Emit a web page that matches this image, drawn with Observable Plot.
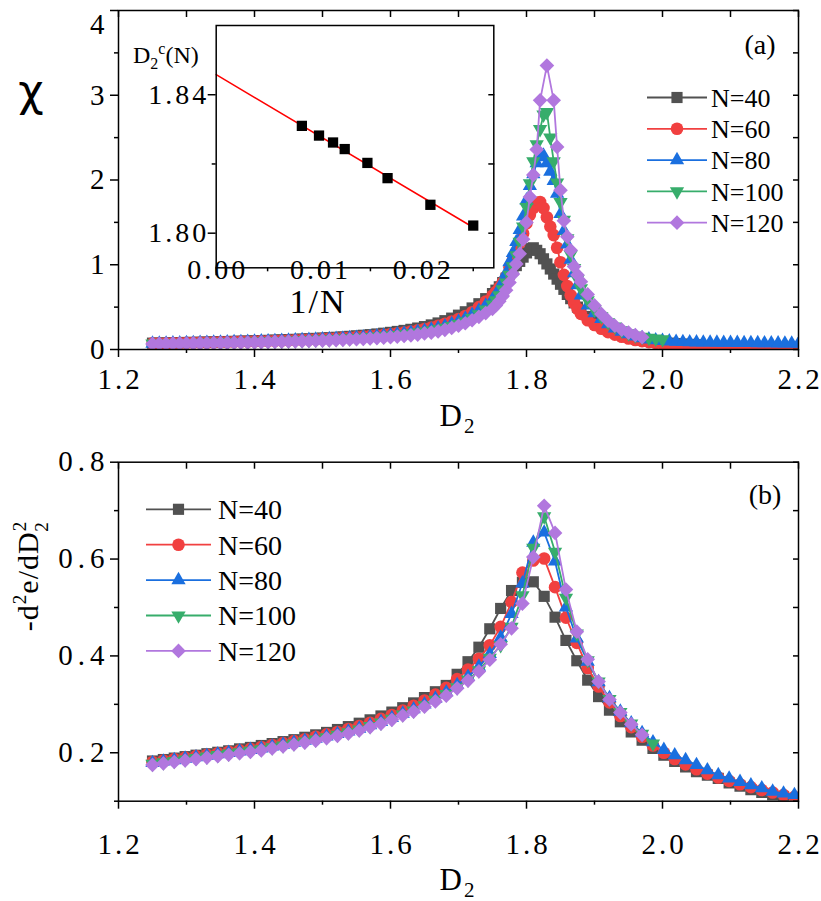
<!DOCTYPE html>
<html><head><meta charset="utf-8">
<script src="https://cdn.jsdelivr.net/npm/d3@7"></script>
<script src="https://cdn.jsdelivr.net/npm/@observablehq/plot@0.6"></script>
<style>
body{margin:0;background:#fff;}
#wrap{position:relative;width:821px;height:901px;background:#fff;}
#wrap svg{position:absolute;overflow:visible;}
#wrap svg text{font-family:"Liberation Serif","Times New Roman",serif;}
</style></head><body><div id="wrap"></div>
<script>
// ---------- data ----------
const seriesNames = ["N=40","N=60","N=80","N=100","N=120"];
const colors = ["#515151","#F14040","#1A6FDF","#37AD6B","#B177DE"];

// panel (a): chi vs D2
const topD = [1.25,1.26,1.27,1.28,1.29,1.3,1.31,1.32,1.33,1.34,1.35,1.36,1.37,1.38,1.39,1.4,1.41,1.42,1.43,1.44,1.45,1.46,1.47,1.48,1.49,1.5,1.51,1.52,1.53,1.54,1.55,1.56,1.57,1.58,1.59,1.6,1.61,1.62,1.63,1.64,1.65,1.66,1.67,1.68,1.69,1.7,1.71,1.72,1.73,1.74,1.75,
1.755,1.76,1.765,1.77,1.775,1.78,1.785,1.79,1.795,1.8,1.805,1.81,1.815,1.82,1.825,1.83,1.835,1.84,1.845,1.85,1.855,1.86,1.865,1.87,1.875,1.88,
1.89,1.9,1.91,1.92,1.93,1.94,1.95,1.96,1.97,1.98,1.99,2,2.01,2.02,2.03,2.04,2.05,2.06,2.07,2.08,2.09,2.1,2.11,2.12,2.13,2.14,2.15,2.16,2.17,2.18,2.19,2.2];
const chiN40 = [.075,.076,.078,.079,.081,.083,.084,.086,.088,.09,.092,.094,.096,.098,.1,.103,.105,.108,.111,.114,.117,.12,.123,.127,.131,.135,.139,.144,.149,.155,.161,.168,.175,.183,.192,.202,.213,.225,.238,.253,.27,.29,.313,.34,.37,.405,.445,.49,.54,.6,.66,
.7,.74,.79,.84,.89,.94,.99,1.04,1.09,1.14,1.19,1.2,1.17,1.13,1.07,1.01,.95,.89,.83,.77,.71,.65,.6,.55,.5,.46,
.39,.33,.28,.24,.205,.175,.15,.13,.115,.1,.09,.082,.075,.069,.064,.06,.056];
const chiN60 = [.072,.073,.074,.076,.077,.079,.08,.082,.083,.085,.087,.089,.091,.093,.095,.097,.099,.101,.104,.106,.109,.112,.115,.118,.121,.125,.129,.133,.137,.142,.147,.153,.159,.166,.173,.181,.19,.2,.212,.226,.242,.26,.28,.303,.33,.36,.395,.44,.5,.565,.635,
.68,.73,.79,.86,.97,1.06,1.15,1.26,1.37,1.49,1.59,1.67,1.73,1.74,1.67,1.56,1.45,1.35,1.2,1.03,.88,.75,.64,.55,.48,.42,
.345,.29,.245,.205,.175,.15,.13,.113,.099,.087,.077,.068,.061,.055,.05,.046,.042,.039,.036,.034,.032,.03,.028,.027,.026,.025,.024,.023,.022,.021,.021,.02];
const chiN80 = [.07,.071,.072,.074,.075,.076,.078,.079,.081,.082,.084,.086,.088,.09,.092,.094,.096,.098,.1,.103,.105,.108,.111,.114,.117,.12,.124,.127,.131,.136,.14,.145,.151,.157,.164,.171,.179,.188,.198,.209,.222,.236,.252,.275,.3,.33,.365,.41,.46,.52,.59,
.65,.71,.8,.9,1.03,1.14,1.27,1.41,1.57,1.76,1.93,2.07,2.2,2.27,2.29,2.2,2.1,1.99,1.84,1.6,1.4,1.24,1.06,.9,.76,.64,
.52,.43,.36,.3,.25,.21,.18,.155,.135,.12,.11,.102,.096,.092,.089,.087,.085,.084,.083,.082,.081,.08,.079,.078,.077,.076,.075,.074,.073,.072,.071,.07];
const chiN100 = [.068,.069,.07,.071,.073,.074,.075,.077,.078,.08,.081,.083,.085,.087,.089,.091,.093,.095,.097,.099,.102,.104,.107,.11,.113,.116,.119,.123,.127,.131,.135,.14,.145,.151,.157,.164,.171,.179,.188,.198,.21,.223,.238,.255,.275,.3,.33,.37,.415,.47,.53,
.58,.64,.71,.79,.88,.98,1.11,1.27,1.45,1.68,1.96,2.22,2.42,2.6,2.77,2.8,2.5,2.22,1.97,1.74,1.53,1.31,1.12,.96,.83,.72,
.58,.47,.39,.32,.27,.225,.19,.165,.148,.136,.127,.12];
const chiN120 = [.066,.067,.068,.069,.07,.071,.072,.073,.074,.076,.077,.078,.08,.081,.083,.084,.086,.088,.09,.092,.094,.096,.098,.1,.103,.105,.108,.111,.114,.118,.121,.125,.13,.135,.14,.146,.152,.159,.167,.176,.19,.2,.213,.232,.255,.28,.31,.345,.385,.43,.48,
.52,.57,.63,.7,.79,.89,1.01,1.13,1.3,1.5,1.8,2.06,2.36,2.94,null,3.35,null,2.94,2.39,1.88,1.52,1.33,1.17,.98,.88,.8,
.65,.52,.42,.34,.28,.235,.2,.17,.145];

// panel (b): -d2e/dD2^2 vs D2
const botD = [1.25,1.266,1.282,1.298,1.314,1.33,1.346,1.362,1.378,1.394,1.41,1.426,1.442,1.458,1.474,1.49,1.506,1.522,1.538,1.554,1.57,1.586,1.602,1.618,1.634,1.65,1.666,1.682,1.698,1.714,1.73,1.746,1.762,1.778,1.794,1.81,1.826,1.842,1.858,1.874,1.89,1.906,1.922,1.938,1.954,1.97,1.986,2.002,2.018,2.034,2.05,2.066,2.082,2.098,2.114,2.13,2.146,2.162,2.178,2.194];
const d2eN40 = [.183,.186,.189,.192,.195,.198,.201,.204,.208,.211,.215,.219,.223,.227,.232,.237,.242,.248,.254,.261,.268,.276,.284,.293,.303,.314,.326,.339,.362,.388,.418,.456,.498,.535,.552,.553,.523,.48,.432,.39,.35,.316,.288,.264,.243,.226,.209,.195,.182,.171,.161,.154,.147,.138,.131,.124,.118,.113,.109];
const d2eN60 = [.181,.184,.187,.19,.193,.196,.199,.202,.205,.208,.212,.216,.22,.224,.228,.233,.238,.243,.249,.255,.262,.27,.278,.287,.297,.308,.32,.334,.352,.372,.394,.422,.46,.511,.572,.597,.601,.542,.479,.427,.375,.337,.304,.276,.253,.233,.215,.2,.187,.176,.166,.157,.149,.142,.135,.129,.123,.118,.113,.109];
const d2eN80 = [.179,.182,.185,.188,.191,.194,.197,.2,.203,.206,.209,.213,.217,.221,.225,.229,.234,.239,.244,.25,.257,.264,.272,.281,.29,.3,.312,.325,.34,.357,.378,.404,.438,.487,.55,.634,.655,.595,.5,.436,.388,.346,.313,.285,.261,.241,.222,.206,.195,.185,.175,.164,.154,.147,.14,.133,.127,.12,.116,.113];
const d2eN100 = [.177,.18,.183,.186,.189,.192,.195,.198,.201,.204,.207,.211,.215,.219,.223,.227,.232,.237,.242,.248,.255,.262,.27,.279,.287,.298,.309,.321,.335,.351,.37,.396,.422,.46,.525,.623,.688,.615,.52,.446,.391,.347,.311,.284,.26,.239,.219];
const d2eN120 = [.175,.178,.181,.184,.187,.19,.193,.196,.199,.202,.205,.209,.213,.217,.221,.225,.23,.235,.24,.246,.253,.26,.268,.277,.285,.295,.306,.318,.333,.349,.368,.392,.424,.457,.508,.604,.71,.654,.537,.45,.393,.347,.31,.283,.259,.237];

// inset: D2c(N) vs 1/N
const insetN = [120,100,88,80,68,60,48,40];
const insetD2c = [1.831,1.8282,1.8262,1.8243,1.8203,1.8159,1.8082,1.8022];
const fitInvN = [0,0.0251];
const fitD2c = [1.8458,1.8015];

// ticks
const xMajor = [1.2,1.4,1.6,1.8,2.0,2.2];
const xMinor = [1.3,1.5,1.7,1.9,2.1];
const chiMajor = [0,1,2,3,4];
const chiMinor = [0.5,1.5,2.5,3.5];
const d2eMajor = [0.2,0.4,0.6,0.8];
const d2eMinor = [0.1,0.3,0.5,0.7];
const insXMajor = [0,0.01,0.02];
const insXMinor = [0.005,0.015,0.025];
const insYMajor = [1.80,1.84];
const insYMinor = [1.82];

// ---------- build ----------
const styleOf = [
  {symbol:"square", r:6.3, rotate:0, d3s:d3.symbolSquare},
  {symbol:"circle", r:6.3, rotate:0, d3s:d3.symbolCircle},
  {symbol:"triangle", r:5.3, rotate:0, d3s:d3.symbolTriangle},
  {symbol:"triangle", r:5.3, rotate:180, d3s:d3.symbolTriangle},
  {symbol:"diamond2", r:6.6, rotate:0, d3s:d3.symbolDiamond2}
];
const rows = (D, vals) => vals.map((v,i)=>({D:D[i], v})).filter(d=>d.v!=null);

function seriesMarks(D, list){
  const m = [];
  list.forEach((vals,i)=>{
    const data = rows(D, vals), s = styleOf[i];
    m.push(Plot.line(data,{x:"D",y:"v",stroke:colors[i],strokeWidth:1.8,clip:true}));
    m.push(Plot.dot(data,{x:"D",y:"v",symbol:s.symbol,r:s.r,rotate:s.rotate,fill:colors[i],stroke:"none",clip:true}));
  });
  return m;
}
function axes(xMa, xMi, yMa, yMi, xFmt, yFmt, o){
  const none = ()=>"";
  const sw = 1.5;
  const marks = [
    Plot.axisX(xMa,{anchor:"bottom",tickSize:8,tickPadding:o.xPad,tickFormat:xFmt,label:null,fontSize:o.fs,strokeWidth:sw}),
    Plot.axisX(xMi,{anchor:"bottom",tickSize:4,tickFormat:none,label:null,strokeWidth:sw}),
    Plot.axisY(yMa,{anchor:"left",tickSize:8,tickPadding:o.yPad,tickFormat:yFmt,label:null,fontSize:o.fs,strokeWidth:sw}),
    Plot.axisY(yMi,{anchor:"left",tickSize:4,tickFormat:none,label:null,strokeWidth:sw}),
    Plot.axisY(yMa.concat(yMi),{anchor:"right",tickSize:-6,tickFormat:none,label:null,strokeWidth:sw})
  ];
  if (o.top) marks.push(Plot.axisX(xMa.concat(xMi),{anchor:"top",tickSize:-6,tickFormat:none,label:null,strokeWidth:sw}));
  marks.push(Plot.frame({stroke:"black",strokeWidth:1.5}));
  return marks;
}
const font = '"Liberation Serif","Times New Roman",serif';

const topPlot = Plot.plot({
  width:821, height:450, marginLeft:118, marginRight:23, marginTop:10, marginBottom:101,
  style:{fontFamily:font, fontSize:"29px", background:"transparent", color:"black"},
  x:{domain:[1.2,2.2]}, y:{domain:[0,4]},
  marks:[
    ...seriesMarks(topD,[chiN40,chiN60,chiN80,chiN100,chiN120]),
    ...axes(xMajor,xMinor,chiMajor,chiMinor,d3.format(".1f"),d=>String(d),{xPad:11,yPad:6,fs:29,top:true})
  ]
});
const botPlot = Plot.plot({
  width:821, height:451, marginLeft:118, marginRight:23, marginTop:11.7, marginBottom:100.3,
  style:{fontFamily:font, fontSize:"29px", background:"transparent", color:"black"},
  x:{domain:[1.2,2.2]}, y:{domain:[0.1,0.8]},
  marks:[
    ...seriesMarks(botD,[d2eN40,d2eN60,d2eN80,d2eN100,d2eN120]),
    ...axes(xMajor,xMinor,d2eMajor,d2eMinor,d3.format(".1f"),d3.format(".1f"),{xPad:24,yPad:6,fs:29,top:true})
  ]
});
const insetData = insetN.map((n,i)=>({inv:1/n, d:insetD2c[i]}));
const fitData = fitInvN.map((x,i)=>({inv:x, d:fitD2c[i]}));
const insetPlot = Plot.plot({
  width:390, height:305, marginLeft:95.7, marginRight:16.7, marginTop:10, marginBottom:52.7,
  style:{fontFamily:font, fontSize:"28px", background:"transparent", color:"black"},
  x:{domain:[0,0.027]}, y:{domain:[1.79,1.86]},
  marks:[
    Plot.frame({fill:"white"}),
    Plot.line(fitData,{x:"inv",y:"d",stroke:"#ff0000",strokeWidth:1.5}),
    Plot.dot(insetData,{x:"inv",y:"d",symbol:"square",r:5.8,fill:"black"}),
    ...axes(insXMajor,insXMinor,insYMajor,insYMinor,d3.format(".2f"),d3.format(".2f"),{xPad:-17,yPad:2,fs:28,top:false})
  ]
});

const wrap = document.getElementById("wrap");
topPlot.style.left="0px"; topPlot.style.top="0px";
botPlot.style.left="0px"; botPlot.style.top="450px";
insetPlot.style.left="120px"; insetPlot.style.top="15px";
wrap.appendChild(topPlot); wrap.appendChild(botPlot); wrap.appendChild(insetPlot);

// wide spacing in tick labels (original font has wide glyph cells)
function spaceTicks(svg, sx, sy){
  d3.select(svg).selectAll('g[aria-label="x-axis tick label"] text').attr("letter-spacing",sx).attr("dx",sx/2);
  d3.select(svg).selectAll('g[aria-label="y-axis tick label"] text').attr("letter-spacing",sy).attr("dx",sy);
}
spaceTicks(topPlot,3,5); spaceTicks(botPlot,3,5); spaceTicks(insetPlot,3,3);
// the topmost chi label sits slightly below its tick in the original
d3.select(topPlot).selectAll('g[aria-label="y-axis tick label"] text')
  .filter(function(){return this.textContent==="4";}).attr("dy","0.5em");

// ---------- text and legends ----------
function txt(svg, x, y, parts, o={}){
  const t = d3.select(svg).append("text").attr("x",x).attr("y",y)
    .style("font-family",o.family||font).attr("font-size",o.size||28)
    .attr("text-anchor",o.anchor||"start").attr("fill","black");
  if (o.rotate) t.attr("transform",`rotate(${o.rotate},${x},${y})`);
  if (o.ls) t.attr("letter-spacing",o.ls);
  parts.forEach(p=>{
    const ts = t.append("tspan").text(p.t);
    if (p.dy) ts.attr("dy",p.dy);
    if (p.dx) ts.attr("dx",p.dx);
    if (p.size) ts.attr("font-size",p.size);
  });
  return t;
}
// panel (a)
txt(topPlot,31,106,[{t:"χ"}],{size:44,anchor:"middle",family:'"DejaVu Sans", sans-serif'});
txt(topPlot,458,426,[{t:"D"},{t:"2",dy:7,size:21}],{size:31,anchor:"middle",ls:2});
txt(topPlot,760,54,[{t:"(a)"}],{size:28,anchor:"middle"});
// panel (b)
txt(botPlot,458,440,[{t:"D"},{t:"2",dy:7,size:21}],{size:31,anchor:"middle",ls:2});
txt(botPlot,765,54,[{t:"(b)"}],{size:28,anchor:"middle"});
txt(botPlot,38,126,[{t:"-d"},{t:"2",dy:-12,size:19},{t:"e/dD",dy:12},{t:"2",dy:-12,size:19},{t:"2",dx:-11,dy:22,size:19}],{size:30,anchor:"middle",rotate:-90,ls:1});
// inset labels
txt(insetPlot,13,48,[{t:"D"},{t:"2",dy:6,size:16},{t:"c",dy:-15,size:16},{t:"(N)",dy:9}],{size:24});
txt(insetPlot,198,298,[{t:"1/N"}],{size:34,anchor:"middle",ls:2});

function legend(svg, x0, x1, xt, y0, step, fs){
  const g = d3.select(svg).append("g");
  seriesNames.forEach((name,i)=>{
    const y = y0 + i*step, s = styleOf[i], xm = (x0+x1)/2;
    g.append("line").attr("x1",x0).attr("x2",x1).attr("y1",y).attr("y2",y).attr("stroke",colors[i]).attr("stroke-width",1.8);
    g.append("path").attr("d",d3.symbol(s.d3s, Math.PI*s.r*s.r)())
      .attr("transform",`translate(${xm},${y}) rotate(${s.rotate})`).attr("fill",colors[i]);
    g.append("text").attr("x",xt).attr("y",y).attr("dy","0.35em").style("font-family",font)
      .attr("text-anchor","start").attr("font-size",fs).attr("fill","black").text(name);
  });
}
legend(topPlot,647,707,711,97.5,31.3,26);
legend(botPlot,146,211,218,59.3,35.4,28);
</script></body></html>
